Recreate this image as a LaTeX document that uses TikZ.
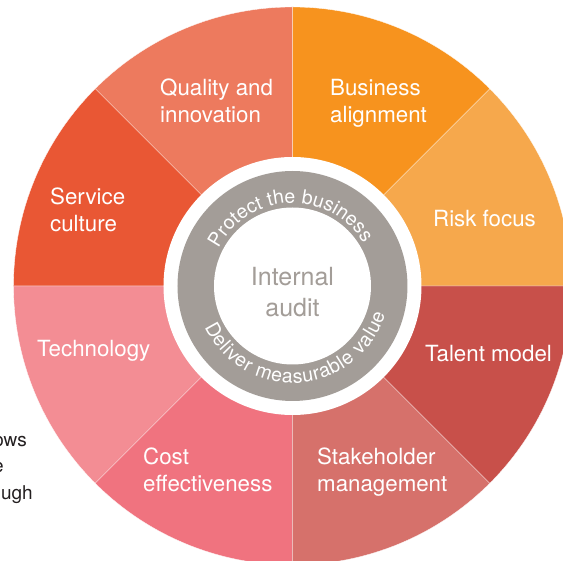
\documentclass[tikz,border=0pt]{standalone}
\usepackage{fontspec}
\setmainfont{TeX Gyre Heros}
\usetikzlibrary{decorations.text}
\definecolor{cQual}{RGB}{237,122,94}
\definecolor{cBus}{RGB}{247,147,30}
\definecolor{cRisk}{RGB}{246,168,76}
\definecolor{cTal}{RGB}{200,80,74}
\definecolor{cStake}{RGB}{214,113,107}
\definecolor{cCost}{RGB}{240,115,127}
\definecolor{cTech}{RGB}{243,141,148}
\definecolor{cServ}{RGB}{233,87,52}
\definecolor{cGrey}{RGB}{163,157,152}
\definecolor{cInk}{RGB}{35,31,32}
\begin{document}
\begin{tikzpicture}[x=1pt,y=1pt,
  seg/.style={draw=white, line width=0.3pt},
  lbl/.style={text=white, align=left, anchor=base west, inner sep=0pt,
              font=\fontsize{22.3}{27}\selectfont},
  side/.style={text=cInk, anchor=base east, inner sep=0pt,
              font=\fontsize{19}{26}\selectfont}
]
\useasboundingbox (-292.5,-275) rectangle (270.5,286);
\clip (-292.5,-275) rectangle (270.5,286);
% wheel segments
\fill[cRisk,seg]  (0,0) -- (0:279pt)   arc[start angle=0,   end angle=45,  radius=279pt] -- cycle;
\fill[cBus,seg]   (0,0) -- (45:279pt)  arc[start angle=45,  end angle=90,  radius=279pt] -- cycle;
\fill[cQual,seg]  (0,0) -- (90:279pt)  arc[start angle=90,  end angle=135, radius=279pt] -- cycle;
\fill[cServ,seg]  (0,0) -- (135:279pt) arc[start angle=135, end angle=180, radius=279pt] -- cycle;
\fill[cTech,seg]  (0,0) -- (180:279pt) arc[start angle=180, end angle=225, radius=279pt] -- cycle;
\fill[cCost,seg]  (0,0) -- (225:279pt) arc[start angle=225, end angle=270, radius=279pt] -- cycle;
\fill[cStake,seg] (0,0) -- (270:279pt) arc[start angle=270, end angle=315, radius=279pt] -- cycle;
\fill[cTal,seg]   (0,0) -- (315:279pt) arc[start angle=315, end angle=360, radius=279pt] -- cycle;
% hub
\node[circle, fill=white, inner sep=0pt, minimum size=258pt] (hubwhite) at (0,0) {};
\node[circle, fill=cGrey, inner sep=0pt, minimum size=230pt] (hubgrey) at (0,0) {};
\node[circle, fill=white, inner sep=0pt, minimum size=157pt] (hubcore) at (0,0) {};
\node[text=cGrey, align=center, anchor=base, inner sep=0pt,
      font=\fontsize{25}{31}\selectfont] (ia) at (0,-31) {Internal\\audit};
% ring texts
\path[decoration={text along path,
      text={|\fontsize{19.5}{19.5}\selectfont\color{white}|Protect the business},
      text align=center}, decorate]
  (152:83pt) arc[start angle=152, end angle=32, radius=83pt];
\path[decoration={text along path,
      text={|\fontsize{19.5}{19.5}\selectfont\color{white}|Deliver measurable value},
      text align=fit to path}, decorate]
  (205:97pt) arc[start angle=205, end angle=343, radius=97pt];
% labels (base = last line)
\node[lbl] (qual)  at (-132.5,163) {Quality and\\innovation};
\node[lbl] (bus)   at (37.5,163)   {Business\\alignment};
\node[lbl] (risk)  at (140.5,59)   {Risk focus};
\node[lbl] (serv)  at (-242.5,54)  {Service\\culture};
\node[lbl] (tech)  at (-255.5,-71) {Technology};
\node[lbl] (tal)   at (132.5,-76)  {Talent model};
\node[lbl] (cost)  at (-149.5,-206){Cost\\effectiveness};
\node[lbl] (stake) at (24.5,-206)  {Stakeholder\\management};
% cut-off side text
\node[side] (s1) at (-265.5,-161) {ows};
\node[side] (s2) at (-288.5,-187) {e};
\node[side] (s3) at (-259.5,-214) {ugh};
\end{tikzpicture}
\end{document}
